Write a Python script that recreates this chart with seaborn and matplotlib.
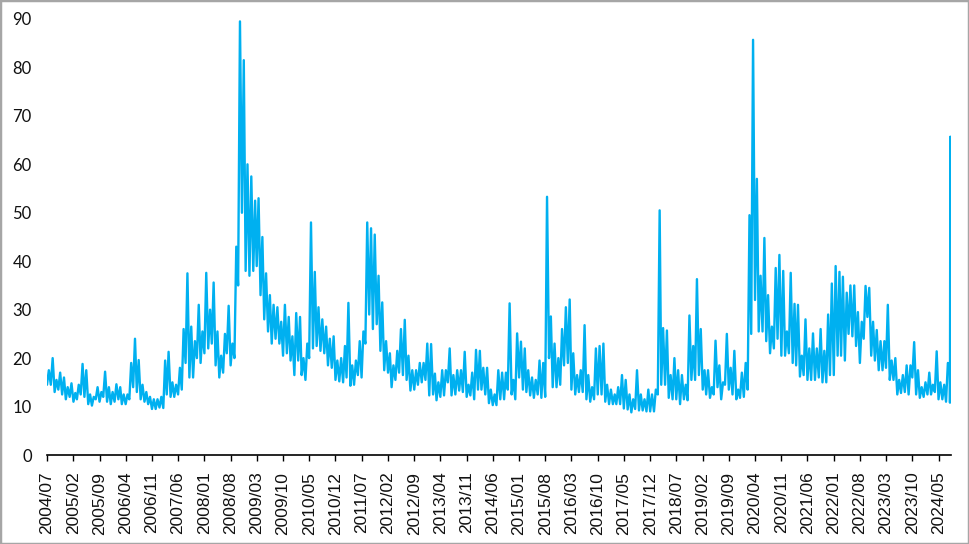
"""
VIX diário (máxima/mínima por quinzena) - 2004/07 a 2024/08
"""

import numpy as np
import pandas as pd
import matplotlib
matplotlib.use('Agg')
import matplotlib.pyplot as plt
import matplotlib.patches as mpatches
import seaborn as sns

# Valores: para cada mês, (mínima, máxima) aproximadas
vix_2004 = [14.5, 17.5, 14.5, 20.0, 13.0, 15.5, 13.5, 17.0, 12.5, 16.0, 11.5, 14.0]
vix_2005 = [12.0, 14.8, 11.0, 12.8, 11.5, 14.5, 12.5, 18.8, 12.0, 17.5, 10.5, 12.5,
            10.2, 12.0, 11.5, 14.0, 11.0, 13.0, 12.0, 17.2, 11.0, 14.0, 10.5, 13.0]
vix_2006 = [11.0, 14.6, 11.5, 14.0, 10.5, 12.5, 10.5, 12.5, 11.5, 19.0, 14.0, 24.0,
            13.0, 19.6, 11.5, 14.5, 11.0, 13.0, 10.5, 12.0, 9.5, 11.5, 9.5, 11.5]
vix_2007 = [9.8, 12.0, 9.7, 19.5, 12.5, 21.3, 12.0, 15.0, 12.0, 14.5, 12.5, 18.0,
            13.5, 26.0, 19.0, 37.5, 16.0, 26.5, 16.0, 23.5, 20.0, 31.0, 19.0, 25.5]
vix_2008 = [21.0, 37.6, 22.0, 30.0, 23.0, 35.6, 18.5, 25.5, 16.0, 20.5, 17.0, 25.0,
            21.0, 30.8, 18.5, 23.0, 20.0, 43.0, 35.0, 89.5, 50.0, 81.5, 38.0, 60.0]
vix_2009 = [37.0, 57.5, 38.0, 52.5, 39.0, 53.0, 33.0, 45.0, 28.0, 37.5, 25.5, 33.0,
            23.0, 31.0, 24.0, 30.5, 23.0, 27.5, 20.5, 31.0, 21.0, 28.5, 19.5, 24.5]
vix_2010 = [16.5, 29.3, 19.5, 28.5, 16.5, 20.0, 15.5, 23.0, 20.0, 48.0, 22.0, 37.8,
            22.5, 30.5, 21.5, 28.0, 21.0, 26.5, 18.5, 24.0, 18.0, 24.5, 15.5, 19.5]
vix_2011 = [15.2, 20.0, 15.0, 22.5, 16.0, 31.4, 14.3, 18.5, 14.5, 19.5, 16.5, 23.5,
            16.0, 25.5, 23.0, 48.0, 29.0, 46.8, 26.0, 45.5, 27.0, 37.0, 21.5, 31.5]
vix_2012 = [17.5, 23.5, 17.0, 21.0, 14.0, 18.5, 15.5, 21.5, 17.0, 26.0, 16.5, 27.9,
            15.5, 20.5, 13.3, 17.5, 13.5, 17.5, 14.5, 19.0, 15.0, 19.0, 15.5, 23.0]
vix_2013 = [12.3, 22.9, 12.5, 16.8, 11.3, 15.0, 12.0, 17.5, 12.3, 17.5, 15.0, 22.0,
            12.3, 16.5, 12.5, 17.5, 13.3, 17.5, 13.0, 21.3, 12.0, 14.5, 12.3, 17.0]
vix_2014 = [11.5, 21.7, 13.5, 21.5, 13.5, 18.0, 12.5, 18.0, 10.7, 13.5, 10.3, 12.5,
            10.3, 17.5, 11.5, 17.0, 11.5, 17.0, 13.5, 31.3, 12.5, 15.5, 11.5, 25.1]
vix_2015 = [16.0, 23.4, 13.5, 22.0, 13.0, 17.5, 12.3, 16.0, 11.8, 15.5, 12.5, 19.5,
            11.8, 19.0, 12.0, 53.3, 20.0, 28.6, 14.0, 23.0, 14.0, 20.0, 14.5, 26.0]
vix_2016 = [18.5, 30.5, 19.0, 32.1, 13.5, 21.0, 12.5, 16.5, 13.0, 17.5, 13.0, 26.8,
            11.5, 16.5, 11.0, 14.0, 11.5, 22.0, 12.5, 22.5, 12.5, 23.0, 11.0, 14.5]
vix_2017 = [10.5, 13.5, 10.5, 12.5, 10.5, 14.0, 10.5, 16.5, 9.6, 15.5, 9.4, 12.5,
            8.8, 11.5, 9.5, 17.5, 9.2, 12.5, 9.2, 11.5, 9.0, 13.5, 9.0, 12.5]
vix_2018 = [9.0, 13.5, 12.5, 50.5, 14.5, 26.2, 14.5, 25.7, 11.8, 16.5, 11.5, 20.0,
            11.5, 17.5, 10.5, 16.5, 11.5, 14.5, 11.3, 28.8, 15.5, 22.5, 15.5, 36.3]
vix_2019 = [16.5, 26.0, 13.5, 17.5, 12.5, 17.5, 11.8, 14.0, 12.5, 23.6, 14.0, 18.5,
            11.5, 15.0, 14.5, 25.0, 13.5, 18.0, 12.5, 21.5, 11.5, 13.5, 11.8, 17.0]
vix_2020 = [12.0, 19.0, 13.5, 49.5, 25.0, 85.7, 32.0, 57.0, 25.5, 37.0, 25.5, 44.8,
            23.5, 33.0, 21.0, 26.5, 22.0, 38.6, 24.0, 41.3, 20.5, 38.0, 20.5, 25.5]
vix_2021 = [21.0, 37.6, 19.0, 31.2, 18.5, 31.0, 16.2, 20.5, 16.5, 28.0, 15.5, 22.0,
            15.5, 25.1, 15.5, 22.0, 16.0, 26.0, 15.0, 21.5, 15.0, 29.0, 16.5, 35.4]
vix_2022 = [16.5, 39.0, 20.5, 37.8, 20.5, 36.8, 19.5, 33.5, 25.0, 35.0, 24.5, 35.0,
            22.5, 29.5, 19.0, 27.5, 24.0, 34.9, 28.5, 34.5, 20.5, 27.5, 19.5, 25.8]
vix_2023 = [17.5, 23.5, 17.5, 23.5, 18.0, 31.0, 15.5, 19.5, 15.5, 20.0, 12.5, 15.5,
            12.8, 16.5, 13.0, 18.5, 12.5, 18.5, 16.0, 23.3, 12.5, 17.5, 11.8, 14.0]
vix_2024 = [12.0, 15.0, 12.5, 17.0, 12.5, 14.5, 13.0, 21.4, 11.5, 15.0, 11.5, 14.5,
            11.0, 19.0]

# agosto/2024: dias e valores
aug_2024_days = [1, 2, 5, 6]
aug_2024_vals = [18.5, 10.8, 65.7, 21.0]

# rótulos do eixo x (a cada 7 meses)
tick_labels = ['2004/07', '2005/02', '2005/09', '2006/04', '2006/11', '2007/06',
               '2008/01', '2008/08', '2009/03', '2009/10', '2010/05', '2010/12',
               '2011/07', '2012/02', '2012/09', '2013/04', '2013/11', '2014/06',
               '2015/01', '2015/08', '2016/03', '2016/10', '2017/05', '2017/12',
               '2018/07', '2019/02', '2019/09', '2020/04', '2020/11', '2021/06',
               '2022/01', '2022/08', '2023/03', '2023/10', '2024/05']
y_ticks = [0, 10, 20, 30, 40, 50, 60, 70, 80, 90]

# Montar série
vals = (vix_2004 + vix_2005 + vix_2006 + vix_2007 + vix_2008 + vix_2009 + vix_2010
        + vix_2011 + vix_2012 + vix_2013 + vix_2014 + vix_2015 + vix_2016 + vix_2017
        + vix_2018 + vix_2019 + vix_2020 + vix_2021 + vix_2022 + vix_2023 + vix_2024)
months = pd.date_range('2004-07-01', periods=len(vals) // 2, freq='MS')
dates = []
for m in months:
    dates.append(m)
    dates.append(m + pd.Timedelta(days=15))
for d in aug_2024_days:
    dates.append(pd.Timestamp(2024, 8, d))
vals = vals + aug_2024_vals
df = pd.DataFrame({'data': dates, 'vix': vals})

sns.set_style('white')

fig = plt.figure(figsize=(9.69, 5.44), dpi=100)
ax = fig.add_axes([0.0485, 0.1636, 0.9325, 0.8015])

sns.lineplot(data=df, x='data', y='vix', ax=ax, color='#00B0F0', linewidth=1.7)

ax.set_xlim(pd.Timestamp('2004-07-01'), pd.Timestamp('2024-08-07'))
ax.set_ylim(0, 90)
ax.set_xlabel('')
ax.set_ylabel('')

tick_dates = [pd.Timestamp(t.replace('/', '-') + '-01') for t in tick_labels]
ax.set_xticks(tick_dates)
ax.set_xticklabels(tick_labels, rotation=90, fontsize=12.5, family='Liberation Sans',
                   color='#111111')
ax.set_yticks(y_ticks)
ax.set_yticklabels([str(v) for v in y_ticks], fontsize=12, family='Lato', color='#111111')

ax.tick_params(axis='x', direction='out', length=4, width=1, color='black', pad=8,
               bottom=True)
ax.tick_params(axis='y', length=0, pad=11)

for s in ['top', 'right', 'left']:
    ax.spines[s].set_visible(False)
ax.spines['bottom'].set_color('black')
ax.spines['bottom'].set_linewidth(1.2)
ax.grid(False)

# moldura cinza
fig.patches.append(mpatches.Rectangle((0, 0), 1, 1, transform=fig.transFigure,
                                      fill=False, edgecolor='#a6a6a6', linewidth=2.5))

fig.savefig('out.png', dpi=100)
plt.close(fig)
